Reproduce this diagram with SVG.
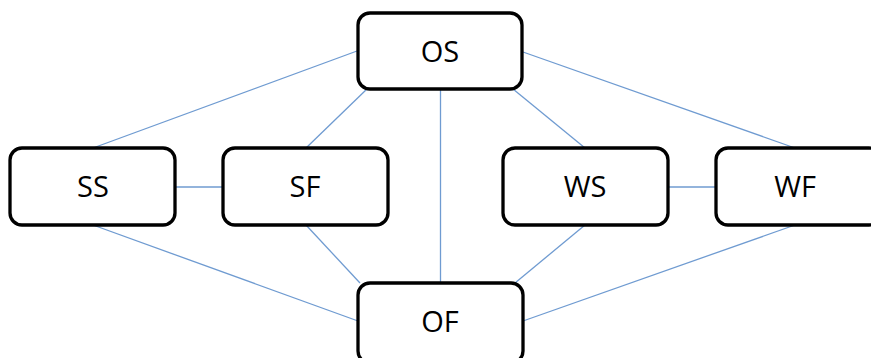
<svg xmlns="http://www.w3.org/2000/svg" width="871" height="358" viewBox="0 0 871 358">
<style>
.box{fill:#fff;stroke:#000;stroke-width:3.3}
.lbl{font-family:"Open Sans","Liberation Sans",sans-serif;font-size:29px;fill:#000;text-anchor:middle}
.edge{stroke:#6f9bd1;stroke-width:1.3;fill:none}
</style>
<rect width="871" height="358" fill="#fff"/>
<g id="connectors">
<line class="edge" x1="357" y1="51" x2="93" y2="148"/>
<line class="edge" x1="368" y1="88" x2="306" y2="148"/>
<line class="edge" x1="440.5" y1="89" x2="440.5" y2="283"/>
<line class="edge" x1="513" y1="89" x2="585" y2="148"/>
<line class="edge" x1="523" y1="52" x2="795" y2="148"/>
<line class="edge" x1="175" y1="187" x2="223" y2="187"/>
<line class="edge" x1="668" y1="187" x2="716" y2="187"/>
<line class="edge" x1="93" y1="225" x2="358" y2="321"/>
<line class="edge" x1="306" y1="225" x2="360" y2="283"/>
<line class="edge" x1="585" y1="225" x2="515" y2="283"/>
<line class="edge" x1="795" y1="225" x2="523" y2="321"/>
</g>
<g id="OS"><rect class="box" x="358" y="13" width="164" height="76" rx="12"/><text class="lbl" x="440" y="62">OS</text></g>
<g id="SS"><rect class="box" x="10" y="148" width="165" height="77" rx="12"/><text class="lbl" x="93" y="197">SS</text></g>
<g id="SF"><rect class="box" x="223" y="148" width="165" height="77" rx="12"/><text class="lbl" x="305" y="197">SF</text></g>
<g id="WS"><rect class="box" x="503" y="148" width="165" height="77" rx="12"/><text class="lbl" x="585" y="197">WS</text></g>
<g id="WF"><rect class="box" x="716" y="148" width="165" height="77" rx="12"/><text class="lbl" x="795" y="197">WF</text></g>
<g id="OF"><rect class="box" x="358" y="283" width="165" height="80" rx="12"/><text class="lbl" x="440" y="332">OF</text></g>
</svg>
